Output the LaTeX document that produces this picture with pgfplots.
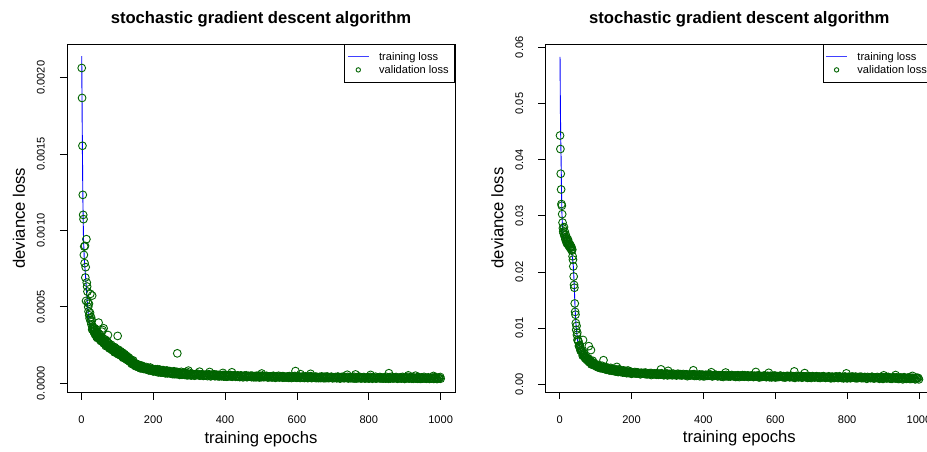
\documentclass[border=0pt]{standalone}
\usepackage{fontspec}
\setmainfont{Liberation Sans}
\usepackage{pgfplots}
\pgfplotsset{compat=1.18}
\definecolor{dkgreen}{RGB}{0,100,0}
\pgfplotsset{
  rstyle/.style={
    scale only axis, width=388bp,
    xmin=-40, xmax=1040,
    xtick={0,200,400,600,800,1000},
    xtick pos=bottom, ytick pos=left,
    tick align=outside, major tick length=7bp,
    every tick/.style={black, line width=0.8bp},
    axis line style={black, line width=0.8bp},
    /pgf/number format/assume math mode=true,
    /pgf/number format/1000 sep={},
    scaled y ticks=false,
    tick label style={font=\fontsize{11.1pt}{13pt}\selectfont},
    xticklabel style={anchor=base, yshift=-24bp},
    yticklabel style={xshift=-15.3bp, rotate=90, anchor=base},
    every axis title/.style={at={(rel axis cs:0.5,1)}, anchor=base, yshift=20bp, font=\fontsize{16.7pt}{20pt}\selectfont\bfseries},
    every axis x label/.style={at={(rel axis cs:0.5,0)}, anchor=base, yshift=-50.7bp, font=\fontsize{16.7pt}{20pt}\selectfont},
    every axis y label/.style={at={(rel axis cs:0,0.5)}, xshift=-42bp, rotate=90, anchor=base, font=\fontsize{16.7pt}{20pt}\selectfont},
    title={stochastic gradient descent algorithm},
    xlabel={training epochs},
    ylabel={deviance loss},
    legend cell align=left,
    legend style={at={(rel axis cs:1,1)}, anchor=north east, draw=black, line width=0.8bp, fill=white,
      inner xsep=2.6bp, inner ysep=7bp, row sep=2bp,
      font=\fontsize{11.1pt}{13pt}\selectfont,
      nodes={inner xsep=3.4bp, inner ysep=0bp, text height=9bp, text depth=2bp},
      /tikz/every odd column/.style={column sep=6.6bp}},
  },
  valstyle/.style={only marks, mark=o, mark size=3.9bp, color=dkgreen, mark options={line width=0.9bp, draw=dkgreen}, forget plot},
  trainstyle/.style={blue, line width=0.9bp, forget plot},
}
\begin{document}
\begin{tikzpicture}
\useasboundingbox (0,0) rectangle (927bp,452bp);
\clip (0,0) rectangle (927bp,452bp);
% ---------------- left panel ----------------
\begin{axis}[rstyle, at={(67bp,59.3bp)}, anchor=south west, height=348.7bp,
  ymin=-0.0000615, ymax=0.00222,
  ytick={0,0.0005,0.001,0.0015,0.002},
  y tick label style={/pgf/number format/.cd, fixed, fixed zerofill, precision=4}]
% dense band of validation losses
\addplot[valstyle] coordinates {
(30,0.000352)(32,0.000364)(34,0.000341)(36,0.000357)(38,0.00032)(40,0.000326)(42,0.000332)(44,0.000297)(46,0.000308)(48,0.000326)
(50,0.000292)(52,0.0003)(54,0.000277)(56,0.000294)(58,0.000277)(60,0.000295)(62,0.000262)(64,0.000271)(66,0.000278)(68,0.000244)
(70,0.000256)(72,0.000275)(74,0.000241)(76,0.000251)(78,0.000228)(80,0.00024)(82,0.000227)(84,0.000242)(86,0.000217)(88,0.000224)
(90,0.000229)(92,0.000203)(94,0.000212)(96,0.000227)(98,0.000201)(100,0.000208)(102,0.00019)(104,0.000204)(106,0.000191)(108,0.000206)
(110,0.000181)(112,0.000188)(114,0.000193)(116,0.000167)(118,0.000176)(120,0.000191)(122,0.000165)(124,0.000172)(126,0.000154)(128,0.000168)
(130,0.000154)(132,0.000168)(134,0.000143)(136,0.000149)(138,0.000153)(140,0.000127)(142,0.000135)(144,0.00015)(146,0.000124)(148,0.000131)
(150,0.000113)(152,0.000121)(154,0.000112)(156,0.000123)(158,0.000107)(160,0.000112)(162,0.000116)(164,0.000098)(166,0.000106)(168,0.000116)
(170,0.000099)(172,0.000105)(174,0.000094)(176,0.000103)(178,0.000095)(180,0.000107)(182,0.000091)(184,0.000097)(186,0.000101)(188,0.000084)
(190,0.000092)(192,0.000103)(194,0.000086)(196,0.000092)(198,0.000081)
(200,0.000078)(202,0.000089)(204,0.000082)(206,0.000092)(208,0.000077)(210,0.000084)(212,0.000088)(214,0.000071)(216,0.000079)(218,0.00009)
(220,0.000071)(222,0.000082)(224,0.000074)(226,0.000085)(228,0.00007)(230,0.000077)(232,0.000081)(234,0.000065)(236,0.000073)(238,0.000084)
(240,0.000065)(242,0.000077)(244,0.000069)(246,0.00008)(248,0.000065)(250,0.000072)(252,0.000076)(254,0.00006)(256,0.000068)(258,0.000079)
(260,0.00006)(262,0.000072)(264,0.000065)(266,0.000075)(268,0.000061)(270,0.000067)(272,0.000072)(274,0.000055)(276,0.000064)(278,0.000075)
(280,0.000056)(282,0.000068)(284,0.000061)(286,0.000071)(288,0.000057)(290,0.000064)(292,0.000068)(294,0.000052)(296,0.000061)(298,0.000071)
(300,0.000054)(303,0.000059)(306,0.000051)(309,0.000062)(312,0.000056)(315,0.00005)(318,0.00006)(321,0.000054)(324,0.000062)(327,0.000052)
(330,0.000056)(333,0.000053)(336,0.000059)(339,0.000049)(342,0.000055)(345,0.000051)(348,0.000057)(351,0.000047)(354,0.000058)(357,0.000052)
(360,0.000046)(363,0.000056)(366,0.00005)(369,0.000059)(372,0.000046)(375,0.000052)(378,0.000049)(381,0.000055)(384,0.000045)(387,0.000051)
(390,0.000046)(393,0.000052)(396,0.000044)(399,0.000055)(402,0.000049)(405,0.000043)(408,0.000053)(411,0.000046)(414,0.000055)(417,0.000044)
(420,0.00005)(423,0.000047)(426,0.000053)(429,0.000043)(432,0.000047)(435,0.000043)(438,0.000049)(441,0.000041)(444,0.000052)(447,0.000046)
(450,0.000039)(453,0.000049)(456,0.000043)(459,0.000052)(462,0.000041)(465,0.000047)(468,0.000044)(471,0.00005)(474,0.00004)(477,0.000046)
(480,0.000041)(483,0.000047)(486,0.000039)(489,0.00005)(492,0.000044)(495,0.000038)(498,0.000048)(501,0.000042)(504,0.000051)(507,0.00004)
(510,0.000045)(513,0.000042)(516,0.000048)(519,0.000038)(522,0.000044)(525,0.00004)(528,0.000046)(531,0.000038)(534,0.000049)(537,0.000043)
(540,0.000036)(543,0.000046)(546,0.00004)(549,0.000049)(552,0.000038)(555,0.000044)(558,0.000041)(561,0.000047)(564,0.000037)(567,0.000043)
(570,0.000038)(573,0.000044)(576,0.000036)(579,0.000047)(582,0.000041)(585,0.000035)(588,0.000045)(591,0.000039)(594,0.000048)(597,0.000037)
(600,0.000042)(603,0.000039)(606,0.000045)(609,0.000035)(612,0.000041)(615,0.000037)(618,0.000043)(621,0.000035)(624,0.000046)(627,0.00004)
(630,0.000034)(633,0.000044)(636,0.000038)(639,0.000047)(642,0.000035)(645,0.000041)(648,0.000038)(651,0.000044)(654,0.000034)(657,0.00004)
(660,0.000036)(663,0.000042)(666,0.000034)(669,0.000045)(672,0.000039)(675,0.000033)(678,0.000043)(681,0.000036)(684,0.000045)(687,0.000034)
(690,0.00004)(693,0.000037)(696,0.000043)(699,0.000033)(702,0.000039)(705,0.000035)(708,0.000041)(711,0.000033)(714,0.000044)(717,0.000038)
(720,0.000031)(723,0.000041)(726,0.000035)(729,0.000044)(732,0.000033)(735,0.000039)(738,0.000036)(741,0.000042)(744,0.000032)(747,0.000038)
(750,0.000034)(753,0.00004)(756,0.000032)(759,0.000043)(762,0.000037)(765,0.000031)(768,0.000041)(771,0.000034)(774,0.000043)(777,0.000032)
(780,0.000038)(783,0.000035)(786,0.000041)(789,0.000031)(792,0.000037)(795,0.000033)(798,0.000039)(801,0.000031)(804,0.000042)(807,0.000036)
(810,0.00003)(813,0.00004)(816,0.000034)(819,0.000043)(822,0.000032)(825,0.000038)(828,0.000035)(831,0.000041)(834,0.000031)(837,0.000037)
(840,0.000033)(843,0.000039)(846,0.000031)(849,0.000042)(852,0.000036)(855,0.00003)(858,0.00004)(861,0.000034)(864,0.000043)(867,0.000032)
(870,0.000038)(873,0.000035)(876,0.000041)(879,0.000031)(882,0.000037)(885,0.000033)(888,0.000039)(891,0.000031)(894,0.000042)(897,0.000036)
(900,0.000029)(903,0.000039)(906,0.000033)(909,0.000042)(912,0.000031)(915,0.000037)(918,0.000034)(921,0.00004)(924,0.00003)(927,0.000036)
(930,0.000032)(933,0.000038)(936,0.00003)(939,0.000041)(942,0.000035)(945,0.000029)(948,0.000039)(951,0.000033)(954,0.000042)(957,0.000031)
(960,0.000036)(963,0.000033)(966,0.000039)(969,0.000029)(972,0.000035)(975,0.000031)(978,0.000037)(981,0.000029)(984,0.00004)(987,0.000034)
(990,0.000028)(993,0.000038)(996,0.000032)(999,0.000041)
};
\addplot[valstyle] coordinates {
(1,0.002063)(2,0.001867)(3,0.001554)(4,0.001233)(5,0.001102)(6,0.001074)(7,0.00084)(8,0.000895)(9,0.000786)(10,0.000899)
(11,0.000692)(12,0.00076)(13,0.000539)(14,0.000943)(15,0.000659)(16,0.000633)(17,0.0006)(18,0.00053)(19,0.0005)(20,0.00047)
(21,0.00052)(22,0.000445)(23,0.000425)(24,0.000462)(25,0.000585)(26,0.000405)(27,0.000432)(28,0.000385)(29,0.000412)(30,0.000574)(31,0.000372)
(32,0.00037)(33,0.000352)(35,0.000335)(36,0.000348)(37,0.00036)(38,0.000322)(39,0.00033)(41,0.000318)(42,0.000305)(43,0.000335)(44,0.000312)(45,0.0003)
(47,0.000304)(48,0.000397)(49,0.00032)(50,0.00029)(51,0.000298)(53,0.000286)(54,0.000305)(55,0.000279)(57,0.000338)(58,0.000272)(59,0.000349)
(61,0.000268)(62,0.00036)(63,0.000262)(65,0.000258)(66,0.00027)(67,0.000285)(68,0.00025)(70,0.000255)(71,0.000275)(72,0.000242)(74,0.000316)(75,0.00024)
(76,0.000262)(77,0.000236)(79,0.00023)(80,0.000248)(82,0.000226)(83,0.000252)(84,0.000224)(86,0.000219)(88,0.000222)(89,0.000238)(90,0.000212)
(92,0.000216)(93,0.000236)(94,0.000205)(96,0.000208)(97,0.000225)(98,0.0002)(100,0.000204)(101,0.00031)(102,0.000196)(103,0.00022)(104,0.000194)
(106,0.000188)(108,0.00019)(109,0.00021)(110,0.000182)(112,0.000184)(114,0.000176)(115,0.0002)(116,0.000178)(118,0.00017)(120,0.000172)(121,0.000188)
(122,0.000164)(124,0.000166)(126,0.000158)(127,0.000178)(128,0.00016)(130,0.00015)(132,0.000152)(133,0.000165)(134,0.000144)(136,0.000146)
(138,0.000136)(139,0.000152)(140,0.000132)(142,0.00013)(144,0.000126)(145,0.00014)(146,0.000122)(148,0.00012)(150,0.000116)(151,0.00013)
(152,0.000114)(154,0.000112)(156,0.000108)(157,0.000124)(158,0.00011)(160,0.000106)(163,0.000104)(165,0.000115)(166,0.0001)(169,0.000101)
(172,0.000096)(173,0.000108)(175,0.000098)(178,0.000093)(181,0.000094)(184,0.00009)(185,0.0001)(187,0.000092)(190,0.000087)(193,0.000088)
(195,0.000094)(196,0.000084)(199,0.000086)
(200,0.00008)(204,0.000088)(208,0.000076)(212,0.000092)(216,0.000078)(220,0.000084)(224,0.00007)(228,0.000086)(232,0.000072)(236,0.00008)
(240,0.000068)(244,0.000077)(248,0.000064)(252,0.000074)(256,0.000062)(260,0.000071)(264,0.00006)(267,0.000196)(268,0.000068)(272,0.000058)
(276,0.000066)(280,0.000057)(284,0.000063)(288,0.000055)(292,0.000061)(296,0.000054)(298,0.000083)(300,0.000058)
(305,0.000053)(310,0.00006)(315,0.000051)(320,0.000061)(325,0.000055)(329,0.000076)(330,0.00005)(335,0.000058)(340,0.000049)(345,0.000056)
(350,0.000052)(355,0.000059)(357,0.000074)(360,0.000047)(365,0.000055)(370,0.00005)(375,0.000057)(380,0.000046)(385,0.000053)(390,0.000049)
(394,0.000068)(395,0.000055)(400,0.000044)(405,0.000051)(410,0.000047)(415,0.000053)(419,0.000072)(420,0.000043)(425,0.00005)(430,0.000046)
(435,0.000052)(440,0.000042)(445,0.000049)(450,0.000045)(455,0.000051)(460,0.000041)(465,0.000048)(470,0.000044)(475,0.00005)(480,0.00004)
(485,0.000047)(490,0.000043)(495,0.000049)(500,0.00004)(502,0.000064)(505,0.000046)(510,0.000042)(515,0.000048)(520,0.000039)(525,0.000045)
(530,0.000041)(535,0.000047)(540,0.000038)(545,0.000044)(550,0.00004)(555,0.000046)(560,0.000037)(565,0.000043)(570,0.000039)(575,0.000045)
(580,0.000037)(585,0.000042)(590,0.000038)(595,0.000044)(596,0.00008)(600,0.000036)(605,0.000042)(610,0.00006)(612,0.000038)(615,0.000044)
(620,0.000036)(625,0.000041)(630,0.000037)(635,0.000043)(638,0.000062)(640,0.000035)(645,0.00004)(650,0.000036)(655,0.000042)(660,0.000034)
(665,0.000039)(670,0.000036)(675,0.000041)(680,0.000034)(685,0.000039)(690,0.000035)(695,0.000041)(700,0.000034)(705,0.000039)(710,0.000035)
(715,0.00004)(720,0.000033)(725,0.000038)(730,0.000035)(735,0.00004)(740,0.000056)(742,0.000033)(745,0.000038)(750,0.000034)(755,0.000039)
(760,0.000032)(763,0.000058)(765,0.000037)(770,0.000034)(775,0.000039)(780,0.000032)(785,0.000037)(790,0.000033)(795,0.000038)(800,0.000032)
(805,0.000055)(807,0.000037)(810,0.000033)(815,0.000038)(820,0.000031)(825,0.000036)(830,0.000033)(835,0.000038)(840,0.000031)(845,0.000036)
(850,0.000032)(855,0.000037)(856,0.000066)(860,0.000031)(865,0.000036)(870,0.000032)(875,0.000037)(880,0.00003)(885,0.000035)(890,0.000032)
(895,0.000036)(900,0.00003)(905,0.000035)(910,0.000052)(912,0.000032)(915,0.000036)(920,0.00003)(925,0.000035)(930,0.00005)(932,0.000031)
(935,0.000036)(940,0.00003)(945,0.000034)(950,0.000031)(955,0.000035)(960,0.00003)(965,0.000034)(970,0.000031)(975,0.000035)(980,0.000048)
(982,0.00003)(985,0.000034)(990,0.000031)(995,0.000035)(1000,0.00003)
};
\addplot[trainstyle] coordinates {
(1,0.00214)(2,0.0018)(3,0.0015)(4,0.00125)(5,0.00108)(6,0.00094)(8,0.00082)(11,0.00072)(14,0.00062)(16,0.000546)(19,0.00046)
(22,0.0004)(28,0.000355)(34,0.000325)(40,0.000303)(46,0.000288)(53,0.000272)(60,0.000256)(66,0.000244)(72,0.000232)(80,0.000218)
(88,0.000206)(96,0.000194)(104,0.000182)(112,0.00017)(120,0.000158)(128,0.000146)(136,0.000131)(144,0.000117)(152,0.000106)(160,0.000099)
(170,0.000092)(180,0.000086)(190,0.000081)(200,0.000076)(225,0.000067)(247,0.000061)(275,0.000055)(300,0.000051)(350,0.000046)(400,0.000042)
(450,0.000039)(516,0.000037)(600,0.000034)(700,0.000032)(800,0.00003)(900,0.000029)(1000,0.000028)
};
\addlegendimage{legend image code/.code={\draw[blue!75, line width=1bp] (0bp,0bp) -- (20.7bp,0bp);}}
\addlegendentry{training loss}
\addlegendimage{legend image code/.code={\draw[dkgreen, line width=0.9bp] (10.35bp,0bp) circle[radius=2.2bp];}}
\addlegendentry{validation loss}
\end{axis}
% ---------------- right panel ----------------
\begin{axis}[rstyle, at={(545.3bp,60bp)}, anchor=south west, height=348bp,
  ymin=-0.001366, ymax=0.0606,
  ytick={0,0.01,0.02,0.03,0.04,0.05,0.06},
  y tick label style={/pgf/number format/.cd, fixed, fixed zerofill, precision=2}]
% dense band of validation losses
\addplot[valstyle] coordinates {
(50,0.0079)(52,0.0077)(54,0.0069)(56,0.007)(58,0.006)(60,0.006)(62,0.0059)(64,0.0051)(66,0.0052)(68,0.0055)
(70,0.0047)(72,0.0049)(74,0.0045)(76,0.0047)(78,0.0044)(80,0.0046)(82,0.00395)(84,0.0041)(86,0.0042)(88,0.00355)
(90,0.0038)(92,0.0042)(94,0.00355)(96,0.0038)(98,0.0034)(100,0.00326)(102,0.0034)(104,0.00325)(106,0.00346)(108,0.00306)
(110,0.0032)(112,0.00329)(114,0.0029)(116,0.00304)(118,0.00331)(120,0.00292)(122,0.00304)(124,0.00283)(126,0.00298)(128,0.00283)
(130,0.00304)(132,0.00265)(134,0.0028)(136,0.0029)(138,0.00251)(140,0.00266)(142,0.00293)(144,0.00254)(146,0.0027)(148,0.00249)
(150,0.00264)(152,0.0025)(154,0.00272)(156,0.00234)(158,0.0025)(160,0.0026)(162,0.00222)(164,0.00238)(166,0.00266)(168,0.00228)
(170,0.00244)(172,0.00224)(174,0.0024)(176,0.00226)(178,0.00248)(180,0.0021)(182,0.00227)(184,0.00238)(186,0.00201)(188,0.00218)
(190,0.00247)(192,0.0021)(194,0.00227)(196,0.00208)(198,0.00225)
(200,0.00193)(203,0.0021)(206,0.00201)(209,0.00219)(212,0.00201)(215,0.00192)(218,0.0021)(221,0.00199)(224,0.00182)(227,0.00208)
(230,0.00191)(233,0.002)(236,0.00186)(239,0.00209)(242,0.00185)(245,0.00178)(248,0.00195)(251,0.00184)(254,0.00202)(257,0.00188)
(260,0.00177)(263,0.00195)(266,0.00188)(269,0.00171)(272,0.00194)(275,0.00181)(278,0.0019)(281,0.00174)(284,0.00197)(287,0.00176)
(290,0.00167)(293,0.00184)(296,0.00175)(299,0.00193)(302,0.00176)(305,0.00167)(308,0.00185)(311,0.00178)(314,0.00161)(317,0.00187)
(320,0.00171)(323,0.0018)(326,0.00166)(329,0.00189)(332,0.00168)(335,0.00161)(338,0.00178)(341,0.00165)(344,0.00183)(347,0.00169)
(350,0.0016)(353,0.00178)(356,0.00171)(359,0.00154)(362,0.00177)(365,0.00164)(368,0.00173)(371,0.00159)(374,0.00182)(377,0.00161)
(380,0.00151)(383,0.00168)(386,0.00159)(389,0.00177)(392,0.00163)(395,0.00154)(398,0.00172)(401,0.00162)(404,0.00145)(407,0.00171)
(410,0.00158)(413,0.00167)(416,0.00153)(419,0.00176)(422,0.00152)(425,0.00145)(428,0.00162)(431,0.00153)(434,0.00171)(437,0.00157)
(440,0.00145)(443,0.00163)(446,0.00156)(449,0.00139)(452,0.00165)(455,0.00152)(458,0.00161)(461,0.00145)(464,0.00168)(467,0.00147)
(470,0.0014)(473,0.00157)(476,0.00148)(479,0.00166)(482,0.0015)(485,0.00141)(488,0.00159)(491,0.00152)(494,0.00135)(497,0.00161)
(500,0.00146)(503,0.00155)(506,0.00141)(509,0.00164)(512,0.00143)(515,0.00136)(518,0.00153)(521,0.00142)(524,0.0016)(527,0.00146)
(530,0.00137)(533,0.00155)(536,0.00148)(539,0.00131)(542,0.00155)(545,0.00142)(548,0.00151)(551,0.00137)(554,0.0016)(557,0.00139)
(560,0.0013)(563,0.00147)(566,0.00138)(569,0.00156)(572,0.00142)(575,0.00133)(578,0.00151)(581,0.00143)(584,0.00126)(587,0.00152)
(590,0.00139)(593,0.00148)(596,0.00134)(599,0.00157)(602,0.00135)(605,0.00128)(608,0.00145)(611,0.00136)(614,0.00154)(617,0.0014)
(620,0.00129)(623,0.00147)(626,0.0014)(629,0.00123)(632,0.00149)(635,0.00136)(638,0.00145)(641,0.00129)(644,0.00152)(647,0.00131)
(650,0.00124)(653,0.00141)(656,0.00132)(659,0.0015)(662,0.00134)(665,0.00125)(668,0.00143)(671,0.00136)(674,0.00119)(677,0.00145)
(680,0.00131)(683,0.0014)(686,0.00126)(689,0.00149)(692,0.00128)(695,0.00121)(698,0.00138)(701,0.00128)(704,0.00146)(707,0.00132)
(710,0.00123)(713,0.00141)(716,0.00134)(719,0.00117)(722,0.00141)(725,0.00128)(728,0.00137)(731,0.00123)(734,0.00146)(737,0.00125)
(740,0.00116)(743,0.00133)(746,0.00124)(749,0.00142)(752,0.00128)(755,0.00119)(758,0.00137)(761,0.00129)(764,0.00112)(767,0.00138)
(770,0.00125)(773,0.00134)(776,0.0012)(779,0.00143)(782,0.0012)(785,0.00113)(788,0.0013)(791,0.00121)(794,0.00139)(797,0.00125)
(800,0.00115)(803,0.00133)(806,0.00126)(809,0.00109)(812,0.00135)(815,0.00122)(818,0.00131)(821,0.00115)(824,0.00138)(827,0.00117)
(830,0.0011)(833,0.00127)(836,0.00118)(839,0.00136)(842,0.0012)(845,0.00111)(848,0.00129)(851,0.00122)(854,0.00105)(857,0.00131)
(860,0.00116)(863,0.00125)(866,0.00111)(869,0.00134)(872,0.00113)(875,0.00106)(878,0.00123)(881,0.00113)(884,0.00131)(887,0.00117)
(890,0.00108)(893,0.00126)(896,0.00119)(899,0.00102)(902,0.00126)(905,0.00113)(908,0.00122)(911,0.00108)(914,0.00131)(917,0.0011)
(920,0.00101)(923,0.00118)(926,0.00109)(929,0.00127)(932,0.00113)(935,0.00104)(938,0.00122)(941,0.00113)(944,0.00096)(947,0.00122)
(950,0.00109)(953,0.00118)(956,0.00104)(959,0.00127)(962,0.00104)(965,0.00097)(968,0.00114)(971,0.00105)(974,0.00123)(977,0.00109)
(980,0.00098)(983,0.00116)(986,0.00109)(989,0.00092)(992,0.00118)(995,0.00105)(998,0.00114)
};
\addplot[valstyle] coordinates {
(1,0.0443)(2,0.0419)(3,0.0375)(4,0.0347)(5,0.0321)(6,0.0318)(7,0.0303)(8,0.0288)(9,0.0278)(10,0.0272)(11,0.0269)(12,0.028)(13,0.0265)
(14,0.0272)(15,0.0262)(16,0.0258)(17,0.0266)(18,0.0255)(19,0.0262)(20,0.0251)(21,0.0256)(22,0.025)(23,0.0258)(24,0.0248)(25,0.0253)
(26,0.0246)(27,0.025)(28,0.0244)(29,0.0249)(30,0.0243)(31,0.0246)(32,0.024)(33,0.0244)(34,0.0238)(35,0.024)(36,0.0228)(37,0.0222)
(38,0.021)(39,0.0192)(40,0.0177)(41,0.0172)(42,0.0144)(43,0.0129)(44,0.0124)(45,0.0109)(46,0.0097)(47,0.0104)(48,0.0088)(49,0.0092)
(50,0.0079)(52,0.0076)(54,0.0068)(56,0.0066)(58,0.0063)(60,0.0061)(62,0.0058)(64,0.0055)(65,0.0079)(66,0.0053)(68,0.005)(70,0.0049)
(72,0.0046)(74,0.0047)(76,0.0043)(78,0.0044)(80,0.0041)(81,0.0068)(82,0.0042)(84,0.0039)(86,0.004)(87,0.0061)(88,0.0037)(90,0.0038)
(92,0.0035)(94,0.0037)(96,0.0034)(98,0.0035)(100,0.0033)(102,0.0034)(104,0.0031)(106,0.0033)(108,0.003)(110,0.0032)(112,0.0029)
(114,0.0031)(116,0.0029)(118,0.003)(120,0.0028)(122,0.0043)(124,0.0029)(126,0.0027)(128,0.0029)(130,0.0026)(132,0.0028)(134,0.0026)
(136,0.0027)(138,0.0025)(140,0.0027)(142,0.0025)(144,0.0026)(146,0.0024)(148,0.0026)(150,0.0024)(152,0.0025)(154,0.0023)(156,0.0025)
(158,0.0023)(159,0.0031)(160,0.0024)(163,0.0022)(166,0.0024)(169,0.0022)(172,0.0023)(175,0.0021)(178,0.0023)(181,0.0021)(184,0.0022)
(187,0.002)(190,0.0022)(193,0.002)(196,0.0021)(199,0.002)
(200,0.00188)(205,0.00211)(210,0.00193)(215,0.00214)(220,0.00194)(225,0.0018)(230,0.00197)(235,0.00204)(240,0.0018)(245,0.00189)
(250,0.00197)(255,0.00166)(260,0.00188)(265,0.00178)(270,0.00196)(275,0.00169)(280,0.00187)(282,0.00267)(285,0.00178)(290,0.00162)
(295,0.00189)(300,0.00159)(302,0.0024)(305,0.00183)(310,0.00167)(315,0.00189)(320,0.0017)(325,0.00157)(330,0.00175)(335,0.00182)
(340,0.00158)(345,0.00169)(350,0.00177)(355,0.00146)(360,0.00168)(365,0.00159)(370,0.00177)(372,0.0025)(375,0.0015)(380,0.00169)
(385,0.0016)(390,0.00144)(395,0.00172)(400,0.00142)(405,0.00166)(410,0.00151)(415,0.00173)(420,0.00154)(422,0.00215)(425,0.00142)
(430,0.0016)(435,0.00167)(440,0.00144)(445,0.00154)(450,0.00162)(455,0.00132)(460,0.00154)(462,0.0021)(465,0.00146)(470,0.00164)
(475,0.00138)(480,0.00156)(485,0.00148)(490,0.00132)(495,0.0016)(500,0.0013)(505,0.00155)(510,0.00139)(515,0.00162)(520,0.00143)
(525,0.00131)(530,0.00149)(535,0.00157)(540,0.00133)(545,0.00144)(546,0.0022)(550,0.00152)(555,0.00122)(560,0.00144)(565,0.00136)
(570,0.00155)(575,0.00128)(580,0.00147)(582,0.00205)(585,0.00139)(590,0.00123)(595,0.00151)(600,0.00122)(605,0.00146)(610,0.00131)
(615,0.00153)(620,0.00135)(625,0.00122)(630,0.00141)(635,0.00149)(640,0.00125)(645,0.00136)(650,0.00145)(653,0.0023)(655,0.00115)
(660,0.00137)(665,0.00129)(670,0.00147)(675,0.00121)(680,0.00139)(682,0.002)(685,0.00131)(690,0.00115)(695,0.00143)(700,0.00114)
(705,0.00138)(710,0.00123)(715,0.00145)(720,0.00127)(725,0.00114)(730,0.00133)(735,0.00141)(740,0.00117)(745,0.00128)(750,0.00137)
(755,0.00106)(760,0.00129)(765,0.0012)(770,0.00139)(775,0.00112)(780,0.00131)(785,0.00122)(790,0.00106)(795,0.00134)(798,0.00195)
(800,0.00106)(805,0.00131)(810,0.00115)(815,0.00138)(820,0.00119)(825,0.00107)(830,0.00125)(835,0.00133)(840,0.0011)(845,0.0012)
(850,0.00129)(855,0.00099)(860,0.00121)(865,0.00113)(870,0.00131)(875,0.00105)(880,0.00123)(885,0.00115)(890,0.00099)(895,0.00127)
(900,0.00097)(902,0.0016)(905,0.00122)(910,0.00106)(915,0.00129)(920,0.0011)(925,0.00098)(930,0.00116)(935,0.00165)(937,0.00124)
(940,0.001)(945,0.00111)(950,0.00119)(955,0.00089)(960,0.00111)(965,0.00103)(970,0.00121)(975,0.00095)(980,0.00113)(982,0.0015)
(985,0.00105)(990,0.0009)(995,0.00117)(1000,0.00088)
};
\addplot[trainstyle] coordinates {
(1,0.0583)(2,0.049)(3,0.0435)(4,0.04)(5,0.035)(6,0.031)(7,0.0293)(8,0.0278)(9,0.0268)(11,0.026)(14,0.0254)(18,0.0249)(22,0.0245)
(26,0.0241)(30,0.0237)(34,0.0231)(36,0.0224)(38,0.021)(40,0.0185)(42,0.015)(44,0.012)(46,0.0102)(48,0.0089)(50,0.0078)(53,0.007)
(57,0.0062)(62,0.0054)(70,0.0046)(85,0.0037)(100,0.0032)(122,0.0028)(150,0.0024)(180,0.0021)(224,0.00192)(280,0.00178)(363,0.00162)
(446,0.0015)(550,0.0014)(650,0.00133)(750,0.00125)(850,0.00117)(1000,0.00103)
};
\addlegendimage{legend image code/.code={\draw[blue!75, line width=1bp] (0bp,0bp) -- (20.7bp,0bp);}}
\addlegendentry{training loss}
\addlegendimage{legend image code/.code={\draw[dkgreen, line width=0.9bp] (10.35bp,0bp) circle[radius=2.2bp];}}
\addlegendentry{validation loss}
\end{axis}
\end{tikzpicture}
\end{document}
